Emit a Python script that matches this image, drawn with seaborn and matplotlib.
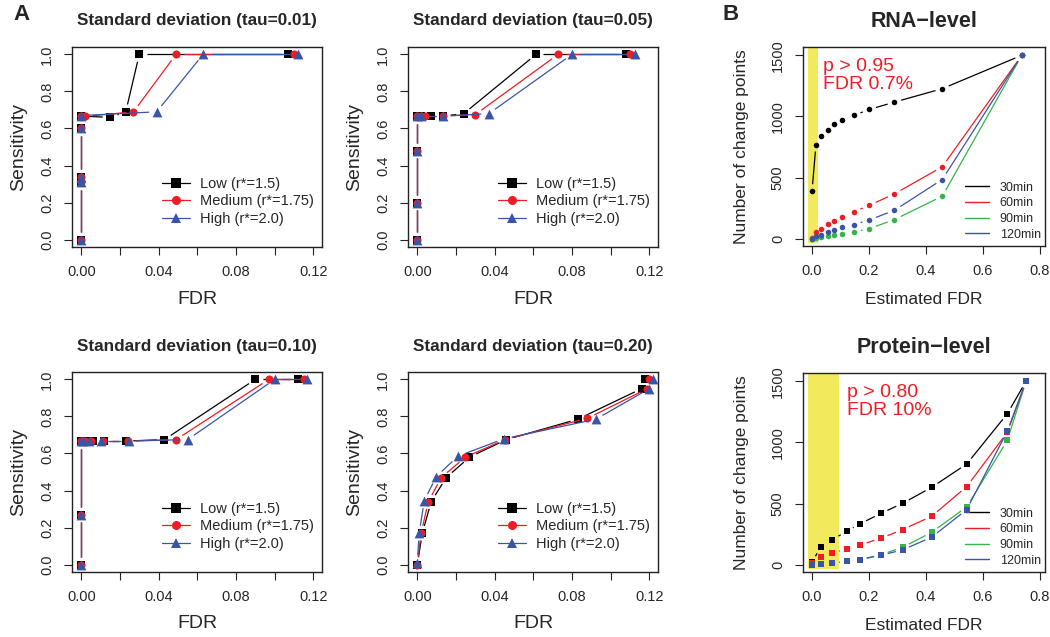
import numpy as np
import seaborn as sns
import matplotlib.pyplot as plt
from matplotlib.lines import Line2D

sns.set_style("ticks")
plt.rcParams['font.family'] = ['Liberation Sans', 'DejaVu Sans']

# ---------------- Panel A: FDR vs sensitivity ----------------
titles_a = ['Standard deviation (tau=0.01)', 'Standard deviation (tau=0.05)',
            'Standard deviation (tau=0.10)', 'Standard deviation (tau=0.20)']
labels_a = ['Low (r*=1.5)', 'Medium (r*=1.75)', 'High (r*=2.0)']

# tau = 0.01
low_fdr_01 = [0, 0, 0, 0, 0, 0.015, 0.023, 0.030, 0.107]
low_sens_01 = [0, 0.31, 0.34, 0.60, 0.667, 0.66, 0.69, 1.0, 1.0]
med_fdr_01 = [0, 0, 0, 0, 0, 0.002, 0.027, 0.049, 0.110]
med_sens_01 = [0, 0.31, 0.34, 0.60, 0.667, 0.665, 0.69, 1.0, 1.0]
high_fdr_01 = [0, 0, 0, 0, 0, 0.039, 0.063, 0.112]
high_sens_01 = [0, 0.31, 0.34, 0.60, 0.67, 0.69, 1.0, 1.0]

# tau = 0.05
low_fdr_05 = [0, 0, 0, 0, 0.002, 0.007, 0.0134, 0.024, 0.0614, 0.108]
low_sens_05 = [0, 0.20, 0.48, 0.667, 0.667, 0.667, 0.667, 0.68, 1.0, 1.0]
med_fdr_05 = [0, 0, 0, 0, 0.002, 0.004, 0.0134, 0.030, 0.0728, 0.110]
med_sens_05 = [0, 0.20, 0.48, 0.667, 0.667, 0.667, 0.667, 0.675, 1.0, 1.0]
high_fdr_05 = [0, 0, 0, 0, 0.002, 0.0134, 0.037, 0.080, 0.1125]
high_sens_05 = [0, 0.20, 0.48, 0.667, 0.667, 0.667, 0.68, 1.0, 1.0]

# tau = 0.10
low_fdr_10 = [0, 0, 0, 0.002, 0.006, 0.012, 0.023, 0.043, 0.090, 0.112]
low_sens_10 = [0, 0.27, 0.667, 0.667, 0.667, 0.667, 0.667, 0.675, 1.0, 1.0]
med_fdr_10 = [0, 0, 0, 0.002, 0.005, 0.011, 0.024, 0.049, 0.097, 0.115]
med_sens_10 = [0, 0.27, 0.667, 0.667, 0.667, 0.667, 0.667, 0.675, 1.0, 1.0]
high_fdr_10 = [0, 0, 0, 0.001, 0.004, 0.010, 0.0245, 0.055, 0.100, 0.117]
high_sens_10 = [0, 0.27, 0.667, 0.667, 0.667, 0.667, 0.667, 0.675, 1.0, 1.0]

# tau = 0.20
low_fdr_20 = [0, 0.0026, 0.0072, 0.015, 0.027, 0.046, 0.083, 0.116, 0.118]
low_sens_20 = [0, 0.17, 0.34, 0.47, 0.58, 0.675, 0.785, 0.95, 1.0]
med_fdr_20 = [0, 0.002, 0.0057, 0.0124, 0.0248, 0.0454, 0.088, 0.119, 0.120]
med_sens_20 = [0, 0.17, 0.34, 0.47, 0.58, 0.675, 0.79, 0.95, 1.0]
high_fdr_20 = [0, 0.001, 0.0036, 0.0098, 0.021, 0.045, 0.0924, 0.120, 0.122]
high_sens_20 = [0.01, 0.17, 0.345, 0.475, 0.585, 0.68, 0.785, 0.95, 1.0]

# ---------------- Panel B: change points vs estimated FDR ----------------
time_labels = ['30min', '60min', '90min', '120min']

rna_fdr = [0, 0.014, 0.030, 0.055, 0.078, 0.104, 0.147, 0.201, 0.289, 0.457, 0.736]
rna_30 = [388, 770, 838, 893, 934, 967, 1008, 1057, 1117, 1227, 1500]
rna_60 = [5, 55, 82, 120, 142, 178, 219, 273, 366, 588, 1500]
rna_90 = [0, 8, 14, 19, 27, 38, 55, 82, 156, 347, 1500]
rna_120 = [0, 19, 33, 55, 74, 93, 115, 153, 232, 484, 1500]

prot_fdr = [0, 0.030, 0.071, 0.122, 0.168, 0.242, 0.318, 0.420, 0.543, 0.685, 0.751]
prot_30 = [19, 143, 205, 273, 333, 420, 502, 633, 824, 1234, 1500]
prot_60 = [10, 66, 96, 128, 161, 216, 287, 396, 639, 1082, 1500]
prot_90 = [0, 3, 11, 27, 41, 82, 142, 265, 473, 1016, 1500]
prot_120 = [0, 2, 12, 27, 41, 77, 121, 225, 451, 1091, 1500]

BLACK = 'black'
RED = '#ee1c24'
BLUE = '#3a55a6'
GREEN = '#34b44a'
YELLOW = '#f2ea5c'

W, H = 1050, 637
fig = plt.figure(figsize=(10.5, 6.37), dpi=100)


def px_axes(left, top, right, bottom):
    return fig.add_axes([left / W, 1 - bottom / H, (right - left) / W, (bottom - top) / H])


def gapped_line(ax, x, y, color, gap=7.5, lw=0.9, z=2):
    # R type="b": segments stop short of the points
    pts = ax.transData.transform(np.column_stack([x, y]))
    inv = ax.transData.inverted()
    for p0, p1 in zip(pts[:-1], pts[1:]):
        d = p1 - p0
        dist = np.hypot(d[0], d[1])
        if dist <= 2 * gap:
            continue
        u = d / dist
        a, b = inv.transform(np.array([p0 + u * gap, p1 - u * gap]))
        ax.plot([a[0], b[0]], [a[1], b[1]], color=color, lw=lw,
                solid_capstyle='butt', zorder=z)


def style_axes(ax, xlabel, ylabel, xlab_y, ylab_x, labsize):
    for sp in ax.spines.values():
        sp.set_visible(True)
        sp.set_linewidth(1.0)
        sp.set_color('#222222')
    ax.tick_params(direction='out', length=6, width=0.8, labelsize=10.5, pad=7,
                   color='#222222')
    ax.tick_params(axis='y', labelrotation=90)
    for lab in ax.get_yticklabels():
        lab.set_va('center')
    ax.set_xlabel(xlabel, fontsize=labsize, va='center')
    ax.set_ylabel(ylabel, fontsize=labsize, va='center')
    ax.xaxis.set_label_coords(0.5, xlab_y)
    ax.yaxis.set_label_coords(ylab_x, 0.5)


panels_a = [
    (titles_a[0], (72, 47, 322, 247), [(low_fdr_01, low_sens_01), (med_fdr_01, med_sens_01), (high_fdr_01, high_sens_01)]),
    (titles_a[1], (408, 47, 658, 247), [(low_fdr_05, low_sens_05), (med_fdr_05, med_sens_05), (high_fdr_05, high_sens_05)]),
    (titles_a[2], (72, 372, 322, 572), [(low_fdr_10, low_sens_10), (med_fdr_10, med_sens_10), (high_fdr_10, high_sens_10)]),
    (titles_a[3], (408, 372, 658, 572), [(low_fdr_20, low_sens_20), (med_fdr_20, med_sens_20), (high_fdr_20, high_sens_20)]),
]
styles_a = [(BLACK, 's', 30), (RED, 'o', 34), (BLUE, '^', 50)]

for title, box, series in panels_a:
    ax = px_axes(*box)
    ax.set_xlim(-0.0048, 0.1245)
    ax.set_ylim(-0.04, 1.04)
    ax.set_xticks(np.arange(0, 0.121, 0.02))
    ax.set_xticklabels(['0.00', '', '0.04', '', '0.08', '', '0.12'])
    ax.set_yticks(np.arange(0, 1.01, 0.2))
    ax.set_yticklabels(['0.0', '0.2', '0.4', '0.6', '0.8', '1.0'])
    for i, ((fdr, sens), (color, marker, size)) in enumerate(zip(series, styles_a)):
        gapped_line(ax, fdr, sens, color, z=2 + 2 * i)
        sns.scatterplot(x=fdr, y=sens, marker=marker, color=color, s=size,
                        linewidth=0, ax=ax, zorder=3 + 2 * i, legend=False)
    style_axes(ax, 'FDR', 'Sensitivity', -0.26, -0.215, 14)
    ax.set_title(title, fontsize=12.3, fontweight='bold', y=1.13, va='center', pad=0)
    handles = [Line2D([0], [0], color=c, marker=m, markersize=6.5 if m != '^' else 7.5,
                      markeredgewidth=0, lw=0.9, label=l)
               for (c, m, _), l in zip(styles_a, labels_a)]
    ax.legend(handles=handles, loc='center left', bbox_to_anchor=(0.33, 0.228),
              frameon=False, fontsize=10.5, borderpad=0, handlelength=1.9,
              handletextpad=0.75, labelspacing=0.25)

# ---------------- Panel B ----------------
panels_b = [
    ('RNA\u2212level', (803, 47, 1045, 246), rna_fdr, [rna_30, rna_60, rna_90, rna_120],
     'o', 16, (-0.014, 0.022), 'p > 0.95\nFDR 0.7%', (0.04, 1336)),
    ('Protein\u2212level', (803, 373, 1045, 572), prot_fdr, [prot_30, prot_60, prot_90, prot_120],
     's', 20, (-0.014, 0.095), 'p > 0.80\nFDR 10%', (0.123, 1332)),
]
colors_b = [BLACK, RED, GREEN, BLUE]

for title, box, fdr, counts, marker, size, band, note, note_xy in panels_b:
    ax = px_axes(*box)
    ax.set_xlim(-0.0316, 0.8175)
    ax.set_ylim(-60, 1568)
    ax.set_xticks([0, 0.2, 0.4, 0.6, 0.8])
    ax.set_xticklabels(['0.0', '0.2', '0.4', '0.6', '0.8'])
    ax.set_yticks([0, 500, 1000, 1500])
    ax.fill_between(band, [-33, -33], [1700, 1700], color=YELLOW, lw=0, zorder=0)
    for i, (cnt, color) in enumerate(zip(counts, colors_b)):
        gapped_line(ax, fdr, cnt, color, gap=7, z=2 + 2 * i)
        sns.scatterplot(x=fdr, y=cnt, marker=marker, color=color, s=size,
                        linewidth=0, ax=ax, zorder=3 + 2 * i, legend=False)
    style_axes(ax, 'Estimated FDR', 'Number of change points', -0.27, -0.255, 12.5)
    ax.set_title(title, fontsize=15.5, fontweight='bold', y=1.127, va='center', pad=0)
    ax.text(note_xy[0], note_xy[1], note, color=RED, fontsize=14, va='center',
            ha='left', linespacing=1.1, zorder=20)
    handles = [Line2D([0], [0], color=c, lw=1.0, label=l) for c, l in zip(colors_b, time_labels)]
    ax.legend(handles=handles, loc='center left', bbox_to_anchor=(0.645, 0.175),
              frameon=False, fontsize=9, borderpad=0, handlelength=1.9,
              handletextpad=0.85, labelspacing=0.3)

fig.text(22 / W, 1 - 15 / H, 'A', fontsize=16, fontweight='bold', ha='center', va='center')
fig.text(731 / W, 1 - 15 / H, 'B', fontsize=16, fontweight='bold', ha='center', va='center')

fig.savefig('out.png', dpi=100)
